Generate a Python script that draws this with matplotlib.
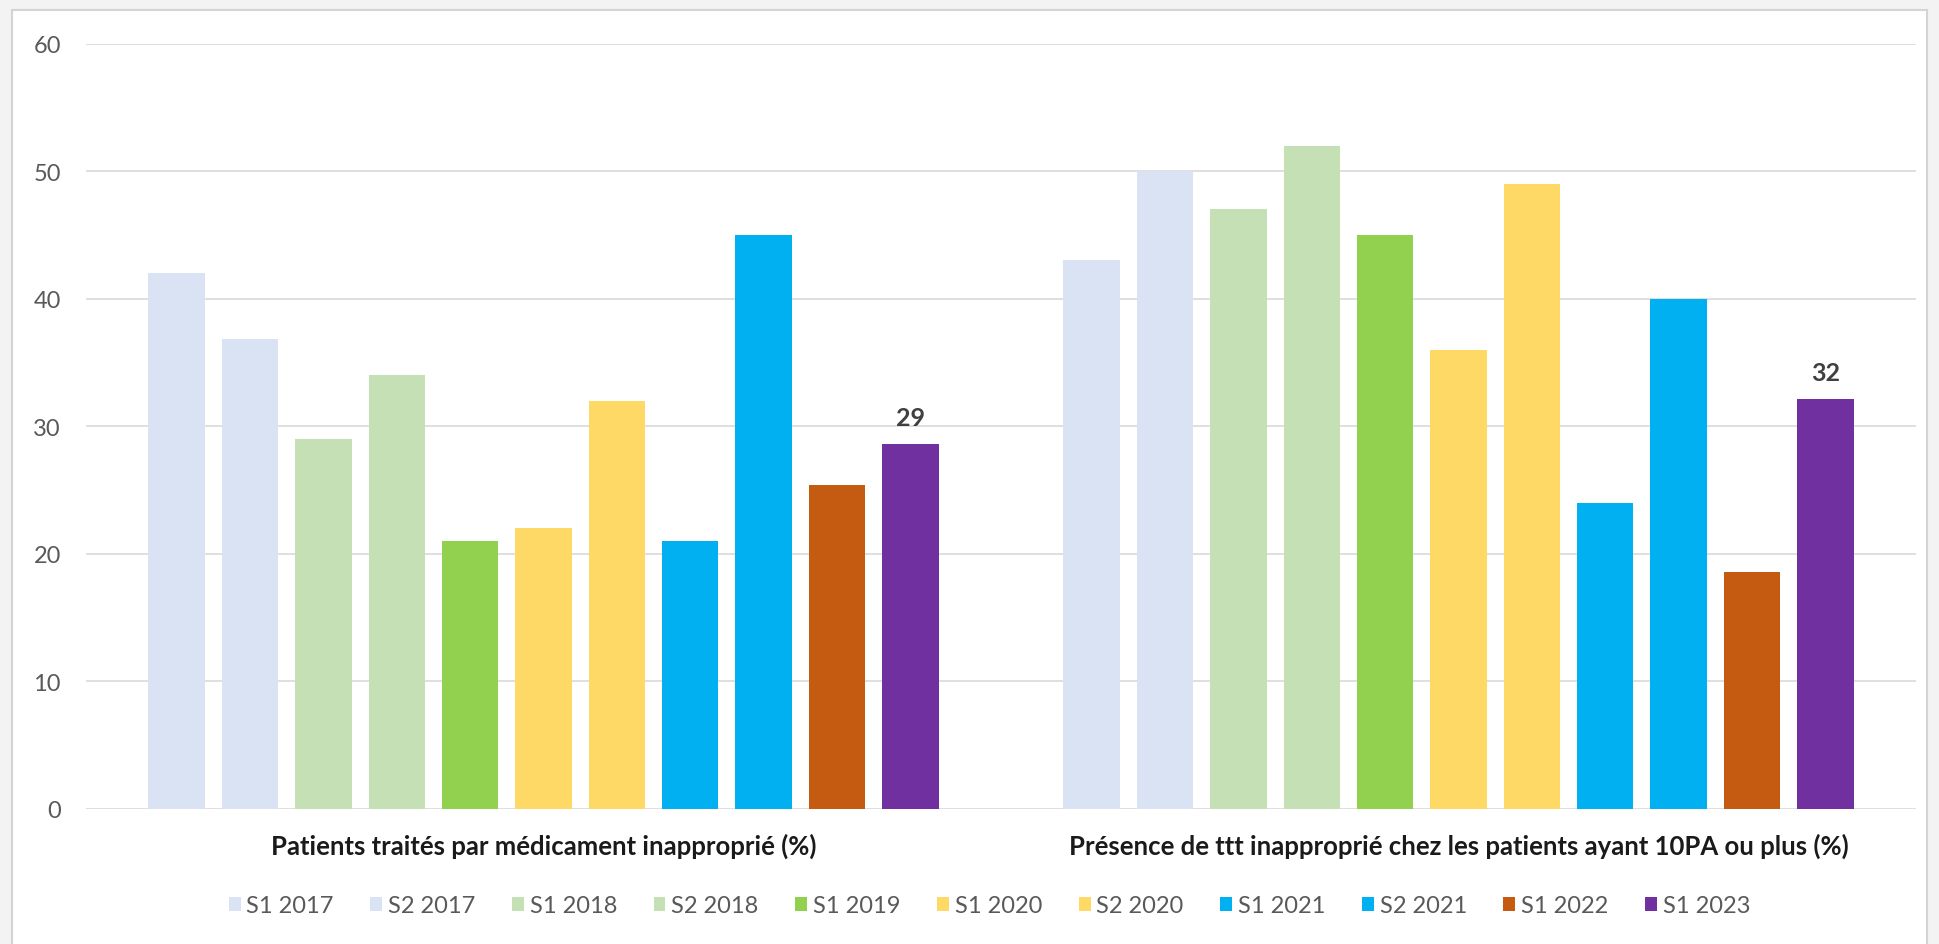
import numpy as np
import matplotlib.pyplot as plt
from matplotlib.patches import Rectangle, Patch

plt.rcParams['font.family'] = ['Lato', 'DejaVu Sans']

# Catégories (axe X) et séries (semestres)
categories = [
    "Patients traités par médicament inapproprié (%)",
    "Présence de ttt inapproprié chez les patients ayant 10PA ou plus (%)",
]
series = ["S1 2017", "S2 2017", "S1 2018", "S2 2018", "S1 2019", "S1 2020",
          "S2 2020", "S1 2021", "S2 2021", "S1 2022", "S1 2023"]
couleurs = ["#dae3f3", "#dae3f3", "#c5e0b4", "#c5e0b4", "#92d050", "#ffd966",
            "#ffd966", "#00b0f0", "#00b0f0", "#c55a11", "#7030a0"]

# Valeurs
patients_traites = [42, 36.8, 29, 34, 21, 22, 32, 21, 45, 25.4, 28.6]
presence_ttt = [43, 50, 47, 52, 45, 36, 49, 24, 40, 18.6, 32.1]

W, H = 1939, 945
fig = plt.figure(figsize=(W / 100, H / 100), dpi=100)
fig.patch.set_facecolor("#f3f3f3")

# Cadre blanc du graphique
fig.add_artist(Rectangle((12 / W, -0.01), (1927 - 12) / W, (H - 11) / H + 0.01,
                         transform=fig.transFigure, facecolor="white",
                         edgecolor="#d4d4d4", linewidth=1.5, zorder=0))

ax = fig.add_axes([86 / W, (H - 810) / H, 1830 / W, (810 - 44.5) / H])
ax.set_facecolor("none")

x = np.arange(len(categories))
pas = 0.0802
largeur = 0.0616
for j, nom in enumerate(series):
    hauteurs = [patients_traites[j], presence_ttt[j]]
    barres = ax.bar(x + (j - 5) * pas, hauteurs, largeur, color=couleurs[j],
                    label=nom, zorder=2)
    if nom == "S1 2023":
        ax.bar_label(barres, labels=[f"{v:.0f}" for v in hauteurs], padding=11,
                     fontsize=18, fontweight="bold", color="#404040")

ax.set_xlim(-0.5, 1.5)
ax.set_ylim(0, 60)
ax.set_yticks(range(0, 61, 10))
ax.yaxis.grid(True, color="#d9d9d9", linewidth=1.2)
ax.set_axisbelow(True)
for s in ax.spines.values():
    s.set_visible(False)
ax.tick_params(axis="y", length=0, pad=18, labelsize=17, labelcolor="#595959")
ax.set_xticks(x)
ax.set_xticklabels(categories, fontsize=18.5, fontweight="bold", color="#1a1a1a")
ax.tick_params(axis="x", length=0, pad=17)

poignees = [Patch(facecolor=c, edgecolor="none") for c in couleurs]
fig.legend(poignees, series, loc="center", bbox_to_anchor=(989.5 / W, 1 - 907 / H),
           ncol=len(series), frameon=False, fontsize=17, labelcolor="#595959",
           handlelength=0.5, handleheight=0.5, handletextpad=0.25,
           columnspacing=1.55)

fig.savefig("out.png", dpi=100, facecolor=fig.get_facecolor())
